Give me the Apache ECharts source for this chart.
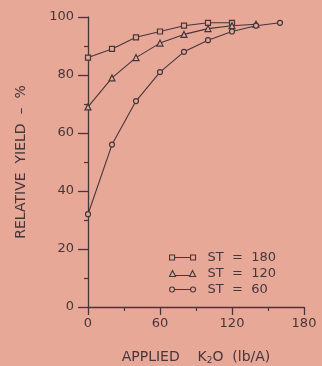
<!DOCTYPE html>
<html><head><meta charset="utf-8">
<script src="https://cdn.jsdelivr.net/npm/echarts@6/dist/echarts.min.js"></script>
<style>html,body{margin:0;padding:0;background:#e8a898;}#c{width:322px;height:366px;}</style>
</head><body><div id="c"></div>
<script>
var k2o = [0, 20, 40, 60, 80, 100, 120, 140, 160];
var st180 = [86, 89, 93, 95, 97, 98, 98];
var st120 = [69, 79, 86, 91, 94, 96, 97, 97.5];
var st60 = [32, 56, 71, 81, 88, 92, 95, 97, 98];
var xTicks = [0, 60, 120, 180];
var yTicks = [0, 20, 40, 60, 80, 100];
var names = ['ST  =  180', 'ST  =  120', 'ST  =  60'];

var ink = '#45363a', bg = '#e8a898';
function pairs(v){ return v.map(function(y,i){ return [k2o[i], y]; }); }
var font = 'DejaVu Sans';
var sqIcon = 'path://M0,1.5 L5,1.5 L5,6.5 L0,6.5 Z M5,4 L21,4 M21,1.5 L26,1.5 L26,6.5 L21,6.5 Z';
var trIcon = 'path://M0,7 L3,1 L6,7 Z M5,6 L21,6 M20,7 L23,1 L26,7 Z';
var ciIcon = 'path://M5,4 A2.5,2.5 0 1 1 0,4 A2.5,2.5 0 1 1 5,4 Z M5,4 L21,4 M26,4 A2.5,2.5 0 1 1 21,4 A2.5,2.5 0 1 1 26,4 Z';
function ser(name, data, sym){
  return {name:name, type:'line', data:pairs(data), symbol:sym, symbolSize: sym==='triangle'?6:5,
    showAllSymbol:true, lineStyle:{color:ink, width:1.1},
    itemStyle:{color:bg, borderColor:ink, borderWidth:1.2}, emphasis:{disabled:true}, z:3};
}
var chart = echarts.init(document.getElementById('c'));
chart.setOption({
  backgroundColor: bg,
  animation:false,
  textStyle:{fontFamily:font, color:ink},
  grid:{left:88, right:18, top:17, bottom:59, containLabel:false, outerBoundsMode:'none'},
  legend:{orient:'vertical', left:164, top:246, itemWidth:26, itemHeight:8, itemGap:3,
    selectedMode:false,
    textStyle:{fontFamily:font, fontSize:13, color:ink, lineHeight:13, padding:[0,0,0,7]},
    itemStyle:{color:bg, borderColor:ink, borderWidth:1.1},
    data:[{name:names[0], icon:sqIcon},{name:names[1], icon:trIcon},{name:names[2], icon:ciIcon}]},
  xAxis:{type:'value', min:xTicks[0], max:xTicks[xTicks.length-1], interval:60,
    name:'{a|APPLIED    K}{s|2}{a|O  (lb/A)}', nameLocation:'middle', nameGap:42,
    nameTextStyle:{rich:{a:{fontFamily:font, fontSize:14, color:ink}, s:{fontFamily:font, fontSize:9, color:ink, verticalAlign:'bottom', padding:[7,0,0,0]}}},
    axisLine:{lineStyle:{color:ink, width:1.3}},
    axisTick:{show:true, inside:false, length:8, lineStyle:{color:ink, width:1.3}},
    minorTick:{show:true, splitNumber:2, length:4, lineStyle:{color:ink, width:1.2}},
    axisLabel:{fontFamily:font, fontSize:13, color:ink, margin:10},
    splitLine:{show:false}},
  yAxis:{type:'value', min:yTicks[0], max:yTicks[yTicks.length-1], interval:20,
    name:'RELATIVE  YIELD  –  %', nameLocation:'middle', nameGap:60, nameRotate:90,
    nameTextStyle:{fontFamily:font, fontSize:14, color:ink},
    axisLine:{show:true, lineStyle:{color:ink, width:1.3}},
    axisTick:{show:true, inside:false, length:10, lineStyle:{color:ink, width:1.3}},
    minorTick:{show:true, splitNumber:2, length:4, lineStyle:{color:ink, width:1.2}},
    axisLabel:{fontFamily:font, fontSize:13, color:ink, margin:14},
    splitLine:{show:false}},
  series:[ser(names[0], st180, 'rect'), ser(names[1], st120, 'triangle'), ser(names[2], st60, 'circle')]
});
</script></body></html>
